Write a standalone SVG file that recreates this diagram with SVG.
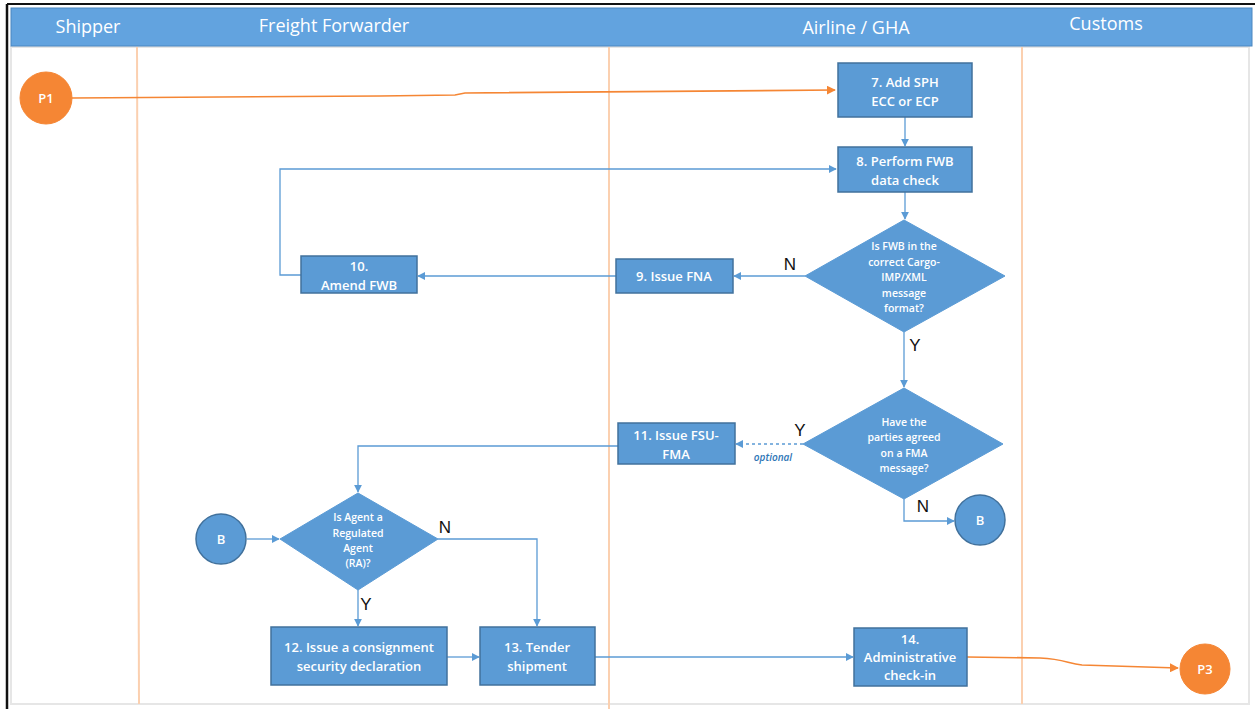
<svg xmlns="http://www.w3.org/2000/svg" width="1255" height="709" viewBox="0 0 1255 709">
<defs>
<style>
.hdr{font-family:"Open Sans","Liberation Sans",sans-serif;font-size:18px;fill:#ffffff;text-anchor:middle}
.box{fill:#5b9bd5;stroke:#41719c;stroke-width:1.5}
.dia{fill:#5b9bd5;stroke:#5b9bd5;stroke-width:1}
.t{font-family:"Open Sans","Liberation Sans",sans-serif;font-size:13px;fill:#ffffff;text-anchor:middle;font-weight:600}
.td{font-family:"Open Sans","Liberation Sans",sans-serif;font-size:10.5px;fill:#ffffff;text-anchor:middle;font-weight:600}
.lbl{font-family:"Liberation Sans",Arial,sans-serif;font-size:17px;fill:#111111;text-anchor:middle}
.lane{stroke:#fbd0b0;stroke-width:2}
.c{fill:none;stroke:#5b9bd5;stroke-width:1.3}
.co{fill:none;stroke:#f58634;stroke-width:1.6}
.pc{fill:#f58634;stroke:#f58634}
.bc{fill:#5b9bd5;stroke:#41719c;stroke-width:1.5}
</style>
<marker id="ab" viewBox="0 0 10 10" refX="9" refY="5" markerWidth="8" markerHeight="8" markerUnits="userSpaceOnUse" orient="auto">
<path d="M0,0 L10,5 L0,10 z" fill="#5b9bd5"/>
</marker>
<marker id="ao" viewBox="0 0 10 10" refX="9" refY="5" markerWidth="9" markerHeight="9" markerUnits="userSpaceOnUse" orient="auto">
<path d="M0,0 L10,5 L0,10 z" fill="#f58634"/>
</marker>
</defs>
<rect x="0" y="0" width="1255" height="709" fill="#ffffff"/>
<rect x="11" y="47" width="1238" height="657" fill="#ffffff" stroke="#e6e6e6" stroke-width="2"/>
<line x1="7" y1="4" x2="1255" y2="4" stroke="#111" stroke-width="2"/>
<line x1="7" y1="4" x2="7" y2="709" stroke="#111" stroke-width="2.5"/>
<g id="header">
<rect x="11" y="8" width="1241" height="38" fill="#62a3df" stroke="#4a86c0" stroke-width="1"/>
<text class="hdr" x="88" y="33">Shipper</text>
<text class="hdr" x="334" y="32">Freight Forwarder</text>
<text class="hdr" x="856" y="34">Airline / GHA</text>
<text class="hdr" x="1106" y="30">Customs</text>
</g>
<g id="lanes">
<line class="lane" x1="137" y1="47" x2="139" y2="704"/>
<line class="lane" x1="609" y1="47" x2="609" y2="709"/>
<line class="lane" x1="1022" y1="47" x2="1022" y2="704"/>
</g>
<g id="connectors">
<path class="co" d="M72,98 L380,96 L455,95 L465,93 L835,90" marker-end="url(#ao)"/>
<path class="co" d="M967,657 L1040,658 C1065,659 1068,664 1082,665 L1178,668" marker-end="url(#ao)"/>
<path class="c" d="M905,117 L905,146" marker-end="url(#ab)"/>
<path class="c" d="M905,192 L905,219" marker-end="url(#ab)"/>
<path class="c" d="M805,276 L734,276" marker-end="url(#ab)"/>
<path class="c" d="M616,276 L418,276" marker-end="url(#ab)"/>
<path class="c" d="M301,275 L280,275 L280,169 L836,169" marker-end="url(#ab)"/>
<path class="c" d="M904,332 L904,387" marker-end="url(#ab)"/>
<path class="c" d="M803,444 L736,444" stroke-dasharray="3,3" marker-end="url(#ab)"/>
<path class="c" d="M904,499 L904,521 L954,521" marker-end="url(#ab)"/>
<path class="c" d="M618,446 L358,446 L358,492" marker-end="url(#ab)"/>
<path class="c" d="M247,539 L279,539" marker-end="url(#ab)"/>
<path class="c" d="M438,539 L537,539 L537,626" marker-end="url(#ab)"/>
<path class="c" d="M358,590 L358,626" marker-end="url(#ab)"/>
<path class="c" d="M447,657 L479,657" marker-end="url(#ab)"/>
<path class="c" d="M595,657 L853,657" marker-end="url(#ab)"/>
<text class="lbl" x="790" y="270">N</text>
<text class="lbl" x="915" y="351">Y</text>
<text class="lbl" x="800" y="436">Y</text>
<text class="lbl" x="923" y="512">N</text>
<text class="lbl" x="445" y="533">N</text>
<text class="lbl" x="366" y="610">Y</text>
<text x="773" y="461" font-family="'Open Sans','Liberation Sans',sans-serif" font-size="10" font-style="italic" font-weight="600" fill="#2e75b6" text-anchor="middle">optional</text>
</g>
<g id="P1">
<circle class="pc" cx="46" cy="98" r="26"/>
<text class="t" x="46" y="103" font-weight="400">P1</text>
</g>
<g id="n7">
<rect class="box" x="838" y="63" width="134" height="54"/>
<text class="t" x="905" y="87">7. Add SPH</text>
<text class="t" x="905" y="106">ECC or ECP</text>
</g>
<g id="n8">
<rect class="box" x="838" y="147" width="134" height="45"/>
<text class="t" x="905" y="166">8. Perform FWB</text>
<text class="t" x="905" y="185">data check</text>
</g>
<g id="d1">
<polygon class="dia" points="904,220 1005,276 904,332 805,276"/>
<text class="td" x="904" y="250">Is FWB in the</text>
<text class="td" x="904" y="266">correct Cargo-</text>
<text class="td" x="904" y="281">IMP/XML</text>
<text class="td" x="904" y="297">message</text>
<text class="td" x="904" y="312">format?</text>
</g>
<g id="n9">
<rect class="box" x="616" y="259" width="117" height="34"/>
<text class="t" x="674" y="281">9.  Issue FNA</text>
</g>
<g id="n10">
<rect class="box" x="301" y="256" width="116" height="37"/>
<text class="t" x="359" y="271">10.</text>
<text class="t" x="359" y="290">Amend FWB</text>
</g>
<g id="d2">
<polygon class="dia" points="904,388 1003,444 904,499 803,444"/>
<text class="td" x="904" y="426">Have the</text>
<text class="td" x="904" y="441">parties agreed</text>
<text class="td" x="904" y="457">on a FMA</text>
<text class="td" x="904" y="472">message?</text>
</g>
<g id="n11">
<rect class="box" x="618" y="423" width="117" height="41"/>
<text class="t" x="676" y="440">11. Issue FSU-</text>
<text class="t" x="676" y="459">FMA</text>
</g>
<g id="B2">
<circle class="bc" cx="980" cy="520" r="25"/>
<text class="t" x="980" y="525">B</text>
</g>
<g id="B1">
<circle class="bc" cx="221" cy="539" r="25"/>
<text class="t" x="221" y="544">B</text>
</g>
<g id="d3">
<polygon class="dia" points="358,493 438,539 358,590 280,539"/>
<text class="td" x="358" y="521">Is Agent a</text>
<text class="td" x="358" y="537">Regulated</text>
<text class="td" x="358" y="552">Agent</text>
<text class="td" x="358" y="567">(RA)?</text>
</g>
<g id="n12">
<rect class="box" x="271" y="627" width="176" height="58"/>
<text class="t" x="359" y="652">12. Issue a consignment</text>
<text class="t" x="359" y="671">security declaration</text>
</g>
<g id="n13">
<rect class="box" x="480" y="627" width="115" height="58"/>
<text class="t" x="537" y="652">13. Tender</text>
<text class="t" x="537" y="671">shipment</text>
</g>
<g id="n14">
<rect class="box" x="854" y="628" width="113" height="58"/>
<text class="t" x="910" y="644">14.</text>
<text class="t" x="910" y="662">Administrative</text>
<text class="t" x="910" y="680">check-in</text>
</g>
<g id="P3">
<circle class="pc" cx="1205" cy="669" r="25"/>
<text class="t" x="1205" y="674" font-weight="400">P3</text>
</g>
</svg>
